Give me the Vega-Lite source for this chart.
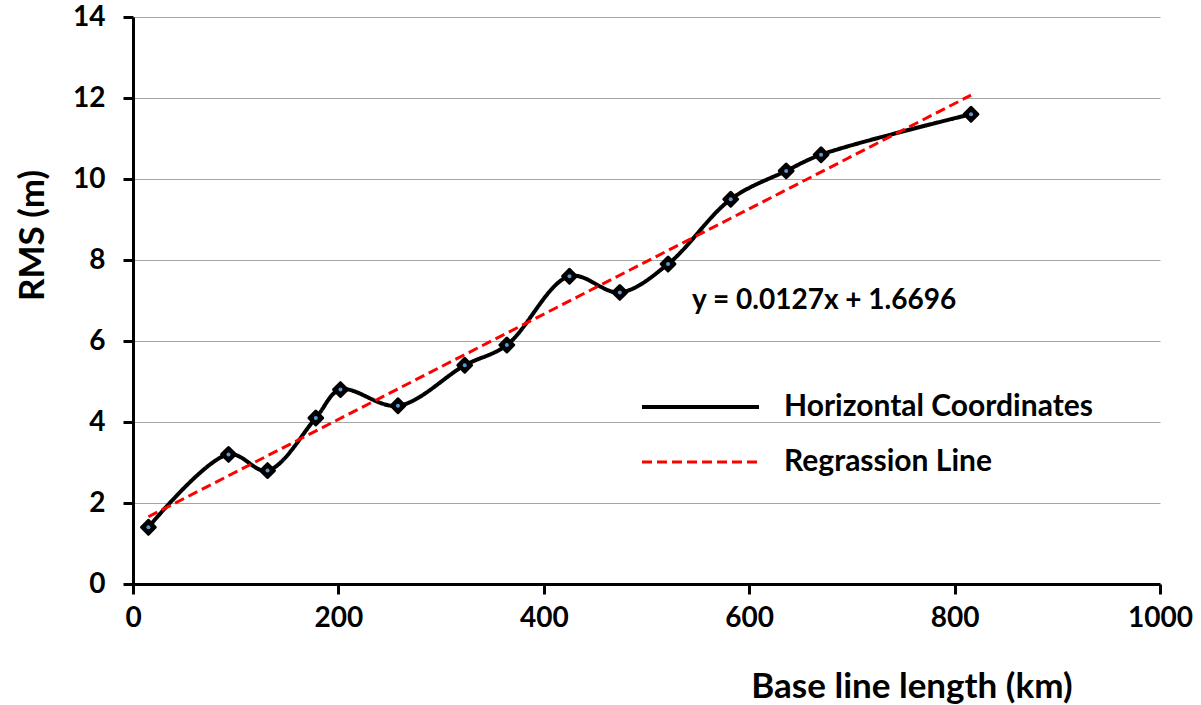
{
  "$schema": "https://vega.github.io/schema/vega-lite/v6.json",
  "width": 1027,
  "height": 567,
  "autosize": {"type": "none"},
  "padding": {"left": 133, "top": 17, "right": 41, "bottom": 121},
  "background": "white",
  "config": {
    "view": {"stroke": null},
    "font": "Lato",
    "axis": {"labelFont": "Lato", "titleFont": "Lato", "labelFontWeight": "bold", "titleFontWeight": "bold", "labelColor": "black", "titleColor": "black"},
    "legend": {"labelFont": "Lato", "labelFontWeight": "bold"}
  },
  "data": {
    "values": [
      {"series": "Horizontal Coordinates", "x": 15, "y": 1.4},
      {"series": "Horizontal Coordinates", "x": 93, "y": 3.2},
      {"series": "Horizontal Coordinates", "x": 131, "y": 2.8},
      {"series": "Horizontal Coordinates", "x": 178, "y": 4.1},
      {"series": "Horizontal Coordinates", "x": 202, "y": 4.8},
      {"series": "Horizontal Coordinates", "x": 258, "y": 4.4},
      {"series": "Horizontal Coordinates", "x": 323, "y": 5.4},
      {"series": "Horizontal Coordinates", "x": 364, "y": 5.9},
      {"series": "Horizontal Coordinates", "x": 425, "y": 7.6},
      {"series": "Horizontal Coordinates", "x": 474, "y": 7.2},
      {"series": "Horizontal Coordinates", "x": 521, "y": 7.9},
      {"series": "Horizontal Coordinates", "x": 582, "y": 9.5},
      {"series": "Horizontal Coordinates", "x": 636, "y": 10.2},
      {"series": "Horizontal Coordinates", "x": 670, "y": 10.6},
      {"series": "Horizontal Coordinates", "x": 816, "y": 11.6},
      {"series": "Regrassion Line", "x": 15, "y": 1.66},
      {"series": "Regrassion Line", "x": 816, "y": 12.07}
    ]
  },
  "encoding": {
    "x": {"field": "x", "type": "quantitative",
      "scale": {"domain": [0, 1000], "nice": false},
      "axis": {"values": [0, 200, 400, 600, 800, 1000], "format": "d", "grid": false, "title": "Base line length (km)",
        "domainColor": "black", "domainWidth": 3, "tickColor": "black", "tickWidth": 3, "tickSize": 10,
        "labelFontSize": 28, "labelPadding": 10, "titleFontSize": 35,
        "titleAnchor": "end", "titleAlign": "right", "titleBaseline": "middle", "titleX": 939, "titleY": 102, "labelFlush": false}},
    "y": {"field": "y", "type": "quantitative",
      "scale": {"domain": [0, 14], "nice": false},
      "axis": {"values": [0, 2, 4, 6, 8, 10, 12, 14], "grid": true, "gridColor": "#a6a6a6", "gridWidth": 1.2, "title": "RMS (m)",
        "domainColor": "black", "domainWidth": 3, "tickColor": "black", "tickWidth": 3, "tickSize": 10,
        "labelFontSize": 28, "labelPadding": 18, "titleFontSize": 35,
        "titleX": -101, "titleY": 218, "titleAlign": "center", "titleBaseline": "middle", "titleAngle": -90}}
  },
  "layer": [
    {
      "mark": {"type": "line", "interpolate": "catmull-rom", "strokeCap": "butt"},
      "encoding": {
        "color": {"field": "series", "type": "nominal",
          "scale": {"domain": ["Horizontal Coordinates", "Regrassion Line"], "range": ["black", "#ff0000"]},
          "legend": {"title": null, "orient": "none", "legendX": 507, "legendY": 374, "direction": "vertical",
            "symbolType": "stroke", "symbolSize": 13689, "symbolStrokeWidth": 3.5, "labelOffset": 23, "labelLimit": 500,
            "labelFontSize": 30, "labelColor": "black", "clipHeight": 32, "rowPadding": 23}},
        "strokeDash": {"field": "series", "type": "nominal",
          "scale": {"domain": ["Horizontal Coordinates", "Regrassion Line"], "range": [[1, 0], [10, 5]]}},
        "strokeWidth": {"field": "series", "type": "nominal",
          "scale": {"domain": ["Horizontal Coordinates", "Regrassion Line"], "range": [4, 3]}, "legend": null},
        "order": {"field": "x", "type": "quantitative"}
      }
    },
    {
      "transform": [{"filter": "datum.series === 'Horizontal Coordinates'"}],
      "mark": {"type": "point", "shape": "diamond", "filled": true, "color": "black", "stroke": "black", "strokeWidth": 3, "strokeJoin": "round", "size": 190, "opacity": 1}
    },
    {
      "transform": [{"filter": "datum.series === 'Horizontal Coordinates'"}],
      "mark": {"type": "point", "shape": "circle", "filled": true, "color": "#5B9BD5", "size": 16, "opacity": 1}
    },
    {
      "data": {"values": [{"label": "y = 0.0127x + 1.6696", "x": 673, "y": 7.0}]},
      "mark": {"type": "text", "font": "Lato", "fontWeight": "bold", "fontSize": 28, "color": "black", "align": "center", "baseline": "middle"},
      "encoding": {
        "x": {"field": "x", "type": "quantitative"},
        "y": {"field": "y", "type": "quantitative"},
        "text": {"field": "label", "type": "nominal"}
      }
    }
  ]
}
